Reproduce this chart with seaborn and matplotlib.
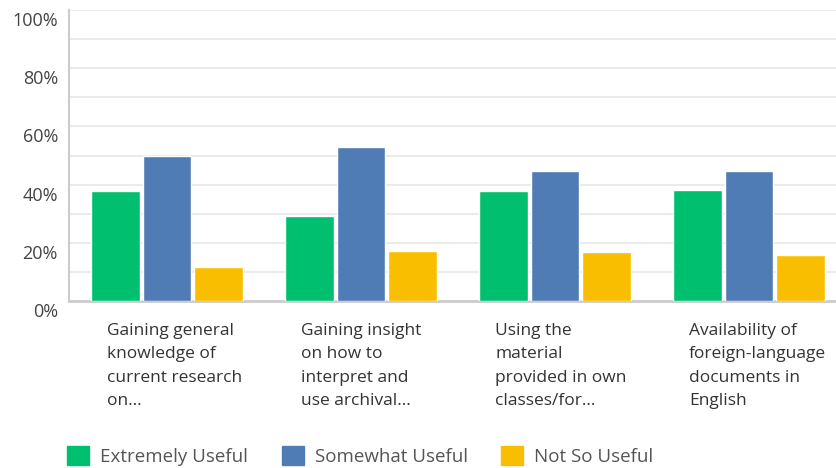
import matplotlib
matplotlib.use("Agg")
import matplotlib.pyplot as plt
import matplotlib.transforms as mtransforms
from matplotlib.patches import Patch
import seaborn as sns
import pandas as pd

categories = [
    "Gaining general\nknowledge of\ncurrent research\non...",
    "Gaining insight\non how to\ninterpret and\nuse archival...",
    "Using the\nmaterial\nprovided in own\nclasses/for...",
    "Availability of\nforeign-language\ndocuments in\nEnglish",
]
series = ["Extremely Useful", "Somewhat Useful", "Not So Useful"]
extremely = [37.9, 29.2, 37.9, 38.3]
somewhat = [49.9, 52.8, 44.7, 44.7]
not_so = [11.8, 17.3, 16.7, 15.7]
yticks = [0, 20, 40, 60, 80, 100]
ytick_labels = ["0%", "20%", "40%", "60%", "80%", "100%"]
colors = ["#00BF6F", "#507CB6", "#F9BE00"]

rows = []
for i, c in enumerate(categories):
    for s, vals in zip(series, [extremely, somewhat, not_so]):
        rows.append({"category": c, "series": s, "value": vals[i]})
df = pd.DataFrame(rows)

sns.set_style("white")
plt.rcParams["font.family"] = ["Open Sans", "DejaVu Sans"]

fig = plt.figure(figsize=(8.36, 4.68), dpi=100)
ax = fig.add_axes([69 / 836, 1 - 301 / 468, 1 - 69 / 836, (301 - 10) / 468])

sns.barplot(data=df, x="category", y="value", hue="series", order=categories,
            hue_order=series, palette=colors, width=0.8, gap=0.06,
            saturation=1, ax=ax, legend=False, zorder=3)

ax.set_xlim(-0.505, 3.448)
ax.set_ylim(0, 100)
ax.set_yticks(yticks)
ax.set_yticklabels(ytick_labels)
ax.set_yticks(range(10, 100, 20), minor=True)
ax.grid(axis="y", which="both", color="#ebebeb", linewidth=1.5, zorder=0)
ax.set_xlabel("")
ax.set_ylabel("")

for side in ["top", "right"]:
    ax.spines[side].set_visible(False)
ax.spines["left"].set_color("#cccccc")
ax.spines["left"].set_linewidth(1.5)
ax.spines["bottom"].set_color("#cccccc")
ax.spines["bottom"].set_linewidth(2)

ax.tick_params(axis="y", which="both", length=0, pad=8, labelsize=13, labelcolor="#444444")
ax.tick_params(axis="x", length=0, pad=16, labelsize=12.5, labelcolor="#333333")

ax.set_xticks(range(len(categories)))
ax.set_xticklabels(categories, ha="left", multialignment="left", linespacing=1.6)
offset_x = mtransforms.ScaledTranslation(-0.60, 0, fig.dpi_scale_trans)
for lab in ax.get_xticklabels():
    lab.set_transform(lab.get_transform() + offset_x)
offset_y = mtransforms.ScaledTranslation(0, -0.09, fig.dpi_scale_trans)
for lab in ax.get_yticklabels():
    lab.set_transform(lab.get_transform() + offset_y)

handles = [Patch(facecolor=c, edgecolor=c, label=s) for c, s in zip(colors, series)]
fig.legend(handles=handles, loc="center left", bbox_to_anchor=(0.060, 0.026),
           ncol=3, frameon=False, fontsize=13.5, handlelength=1.17, handleheight=1.17,
           handletextpad=0.59, columnspacing=1.8, labelcolor="#555555")

fig.savefig("out.png", dpi=100, facecolor="white")
